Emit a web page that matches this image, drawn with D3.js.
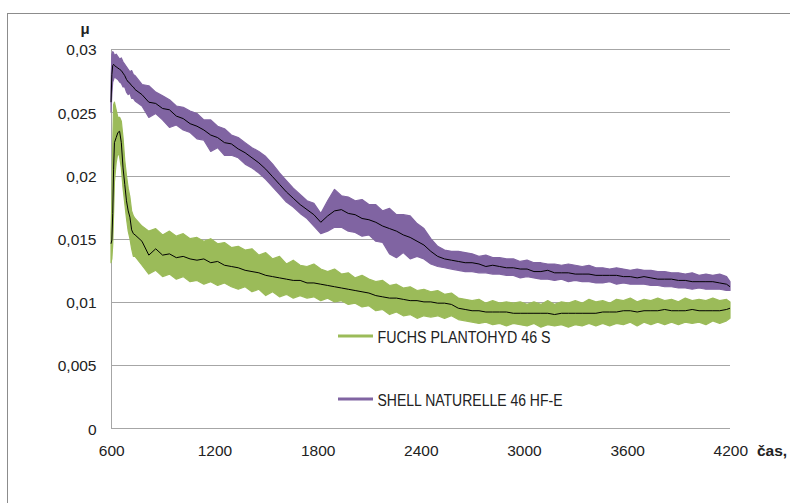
<!DOCTYPE html>
<html><head><meta charset="utf-8">
<script src="https://cdn.jsdelivr.net/npm/d3@7/dist/d3.min.js"></script>
<style>
body{margin:0;background:#fff}
text{font-family:"Liberation Sans",Arial,sans-serif;fill:#222}
</style>
</head><body>
<svg id="chart" width="790" height="503"></svg>
<script>
// time, s
const time = [
 600,605,610,615,620,630,640,650,660,670,680,690,700,710,720,730,
 740,780,820,860,900,940,980,1020,1060,1100,
 1140,1180,1220,1260,1300,1340,1380,1420,1460,1500,
 1540,1580,1620,1660,1700,1740,1780,1820,1860,1900,
 1940,1980,2020,2060,2100,2140,2180,2220,2260,2300,
 2340,2380,2420,2460,2500,2540,2580,2620,2660,2700,
 2740,2780,2820,2860,2900,2940,2980,3020,3060,3100,
 3140,3180,3220,3260,3300,3340,3380,3420,3460,3500,
 3540,3580,3620,3660,3700,3740,3780,3820,3860,3900,
 3940,3980,4020,4060,4100,4140,4180,4200];

// friction coefficient μ, in units of 0.001
// FUCHS PLANTOHYD 46 S : smoothed line, upper and lower edge of raw signal
const fuchsMean = [
 14.6,14.9,17.0,20.5,22.6,23.0,23.4,23.5,22.6,20.6,19.3,18.0,17.2,16.7,15.7,15.4,
 15.3,14.8,13.7,14.2,13.7,13.8,13.5,13.6,13.4,13.3,
 13.4,13.1,13.2,12.9,12.8,12.7,12.5,12.4,12.3,12.1,
 12.0,11.9,11.8,11.7,11.7,11.5,11.5,11.4,11.3,11.2,
 11.1,11.0,10.9,10.8,10.7,10.5,10.4,10.3,10.3,10.2,
 10.1,10.1,10.0,10.0,9.9,9.9,9.8,9.5,9.4,9.3,
 9.3,9.2,9.2,9.2,9.2,9.1,9.1,9.1,9.1,9.1,
 9.1,9.0,9.1,9.1,9.1,9.1,9.1,9.1,9.2,9.2,
 9.2,9.3,9.3,9.2,9.3,9.3,9.3,9.4,9.3,9.3,
 9.3,9.4,9.3,9.3,9.3,9.3,9.4,9.5];
const fuchsHi = [
 15.5,18.0,22.5,25.6,25.8,25.2,24.6,24.6,24.3,23.0,21.2,20.0,19.0,18.3,17.2,16.8,
 16.6,16.0,15.6,15.8,15.3,15.6,15.2,15.4,15.0,15.1,
 14.8,15.0,14.6,14.7,14.3,14.4,14.1,14.2,13.7,13.9,
 13.4,13.6,13.0,13.3,12.9,12.8,13.0,12.6,12.4,12.6,
 12.2,12.3,11.9,12.1,11.8,11.6,11.7,11.3,11.4,11.1,
 11.2,10.9,11.0,10.8,10.9,10.6,10.7,10.3,10.2,10.1,
 10.2,9.9,10.1,9.9,10.0,9.9,10.0,9.8,10.0,9.8,
 10.1,9.8,10.0,9.9,10.1,9.9,10.2,10.0,10.1,9.9,
 10.2,10.1,10.3,10.0,10.2,10.1,10.3,10.1,10.2,10.0,
 10.3,10.1,10.2,10.1,10.3,10.1,10.2,10.0];
const fuchsLo = [
 13.1,13.4,14.5,17.0,19.5,21.0,21.8,21.5,20.6,19.0,17.8,16.6,15.6,15.0,14.2,13.6,
 13.6,12.9,12.2,12.5,12.0,12.2,11.8,12.0,11.6,11.7,
 11.4,11.6,11.3,11.5,11.2,11.0,11.2,10.8,11.0,10.5,
 10.8,10.4,10.6,10.3,10.5,10.3,10.4,10.1,10.3,10.0,
 10.1,9.8,9.9,9.6,9.7,9.3,9.4,9.0,9.2,8.9,
 9.0,8.7,8.9,8.8,8.9,8.7,8.9,8.6,8.5,8.4,
 8.3,8.4,8.2,8.3,8.1,8.3,8.2,8.1,8.3,8.0,
 8.2,8.1,8.2,8.0,8.2,8.1,8.3,8.1,8.3,8.1,
 8.3,8.2,8.4,8.1,8.4,8.2,8.4,8.2,8.4,8.2,
 8.4,8.3,8.4,8.2,8.5,8.3,8.5,8.7];

// SHELL NATURELLE 46 HF-E
const shellMean = [
 25.8,28.0,28.7,28.8,28.7,28.6,28.5,28.4,28.3,28.1,27.9,27.6,27.4,27.3,27.1,27.0,
 26.8,26.4,25.8,25.7,25.3,25.2,24.7,24.5,24.1,23.9,
 23.6,23.2,23.0,22.6,22.5,22.1,21.8,21.4,21.0,20.5,
 19.9,19.3,18.7,18.2,17.7,17.3,16.9,16.3,16.8,17.2,
 17.3,17.0,16.9,16.6,16.5,16.3,16.0,15.8,15.6,15.3,
 15.1,14.8,14.5,14.0,13.6,13.4,13.3,13.2,13.1,13.1,
 13.0,12.8,12.9,12.8,12.7,12.7,12.6,12.6,12.4,12.4,
 12.5,12.3,12.3,12.3,12.2,12.2,12.2,12.1,12.1,12.1,
 12.1,12.0,12.0,11.9,12.0,11.9,11.8,11.8,11.8,11.7,
 11.7,11.6,11.6,11.6,11.6,11.5,11.4,11.2];
const shellHi = [
 27.0,29.6,29.8,29.7,29.5,29.6,29.4,29.2,29.3,29.0,28.8,28.6,28.4,28.2,28.3,28.0,
 27.9,27.2,27.1,26.6,26.3,26.0,25.5,25.4,25.1,24.9,
 24.4,24.4,23.9,23.7,23.2,23.0,22.6,22.2,21.9,21.5,
 20.9,20.2,19.6,19.0,18.5,18.0,17.8,17.0,18.0,18.9,
 18.4,18.3,18.0,18.1,17.7,17.7,17.2,17.4,16.9,16.9,
 16.8,16.2,15.8,15.0,14.4,14.1,14.0,14.0,13.9,13.8,
 13.6,13.7,13.5,13.5,13.4,13.4,13.2,13.3,13.1,13.1,
 13.0,13.0,12.9,13.0,12.9,12.8,12.9,12.7,12.7,12.6,
 12.7,12.6,12.5,12.6,12.5,12.5,12.4,12.4,12.3,12.3,
 12.2,12.3,12.1,12.2,12.1,12.2,12.0,11.6];
const shellLo = [
 25.0,26.5,27.4,27.6,27.8,27.7,27.6,27.4,27.3,27.0,27.0,26.6,26.4,26.5,26.1,26.1,
 25.9,25.5,24.6,24.9,24.4,23.8,24.0,23.6,23.4,22.9,
 22.8,21.9,22.2,21.6,21.6,21.4,20.9,20.6,20.2,19.7,
 19.1,18.5,17.9,17.5,17.0,16.6,16.0,15.4,15.6,15.9,
 15.9,15.6,15.5,15.2,15.3,14.8,14.7,13.8,13.5,13.9,
 13.4,13.6,13.4,13.0,12.8,12.7,12.6,12.5,12.4,12.4,
 12.3,12.3,12.2,12.2,12.1,12.1,11.9,12.0,11.9,11.8,
 11.8,11.7,11.8,11.6,11.7,11.6,11.6,11.5,11.5,11.6,
 11.4,11.5,11.4,11.4,11.4,11.3,11.3,11.2,11.2,11.1,
 11.1,11.0,11.1,11.0,11.0,11.0,10.9,10.9];

const xTicks = [600,1200,1800,2400,3000,3600,4200];
const yTicks = [0,5,10,15,20,25,30];
const yTickLabels = ["0","0,005","0,01","0,015","0,02","0,025","0,03"];
const seriesNames = ["FUCHS PLANTOHYD 46 S","SHELL NATURELLE 46 HF-E"];
const seriesColors = ["#9bbb59","#8064a2"];
const yTitle = "μ", xTitle = "čas, s";

const svg = d3.select("#chart");
const x = d3.scaleLinear().domain([600,4200]).range([111,730]);
const y = d3.scaleLinear().domain([0,30]).range([428.3,49.1]);

// outer frame (extends past the picture edges)
svg.append("rect").attr("x",7.5).attr("y",13.5).attr("width",820).attr("height",520)
  .attr("fill","none").attr("stroke","#8c8c8c").attr("stroke-width",1);

// gridlines
svg.append("g").selectAll("line").data(yTicks).join("line")
  .attr("x1",x(600)).attr("x2",x(4200))
  .attr("y1",d=>Math.round(y(d))+0.5).attr("y2",d=>Math.round(y(d))+0.5)
  .attr("stroke","#a6a6a6").attr("stroke-width",1);
// left axis line
svg.append("line").attr("x1",Math.round(x(600))+0.5).attr("x2",Math.round(x(600))+0.5)
  .attr("y1",Math.round(y(30))+0.5).attr("y2",Math.round(y(0))+0.5)
  .attr("stroke","#a6a6a6");

// y tick labels
svg.append("g").selectAll("text").data(yTicks).join("text")
  .attr("x",96.5).attr("y",d=>y(d)+6.3).attr("text-anchor","end")
  .style("font-size","15.5px").text((d,i)=>yTickLabels[i]);
// x tick labels
svg.append("g").selectAll("text").data(xTicks).join("text")
  .attr("x",d=>x(d)+0.8).attr("y",456).attr("text-anchor","middle")
  .style("font-size","15.5px").text(d=>d);

svg.append("text").attr("x",85).attr("y",34).attr("text-anchor","middle")
  .style("font-size","15px").style("font-weight","bold").text(yTitle);
svg.append("text").attr("x",757).attr("y",456)
  .style("font-size","15.5px").style("font-weight","bold").text(xTitle);

const idx = d3.range(time.length);
const series = [
  {mean:fuchsMean, hi:fuchsHi, lo:fuchsLo},
  {mean:shellMean, hi:shellHi, lo:shellLo}
];
series.forEach((s,k)=>{
  const area = d3.area().x(i=>x(time[i])).y0(i=>y(s.lo[i])).y1(i=>y(s.hi[i]));
  svg.append("path").attr("d",area(idx)).attr("fill",seriesColors[k])
    .attr("stroke",seriesColors[k]).attr("stroke-width",1.2).attr("stroke-linejoin","round");
});
series.forEach((s,k)=>{
  const line = d3.line().x(i=>x(time[i])).y(i=>y(s.mean[i]));
  svg.append("path").attr("d",line(idx)).attr("fill","none")
    .attr("stroke","#000").attr("stroke-width",1);
});

// legend
const legY = [336, 399];
const legW = [173, 185];
seriesNames.forEach((n,k)=>{
  svg.append("line").attr("x1",338).attr("x2",373).attr("y1",legY[k]).attr("y2",legY[k])
    .attr("stroke",seriesColors[k]).attr("stroke-width",3);
  svg.append("text").attr("x",377.5).attr("y",legY[k]+6.5)
    .style("font-size","16px").attr("textLength",legW[k]).attr("lengthAdjust","spacingAndGlyphs")
    .text(n);
});
</script>
</body></html>
